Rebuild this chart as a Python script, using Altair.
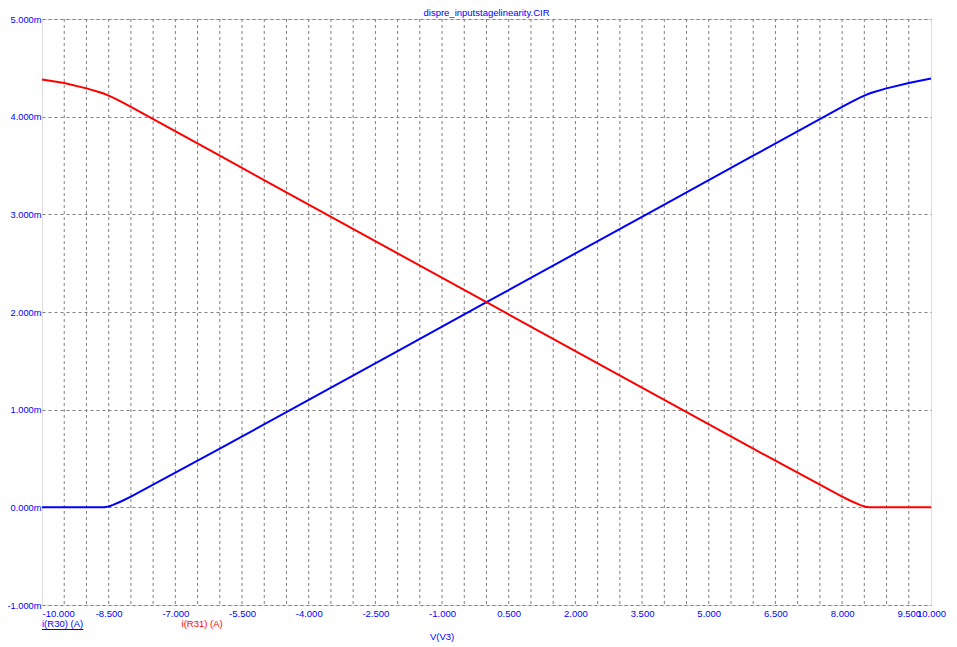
import altair as alt
import pandas as pd

# Sweep voltage V(V3) in volts
v_sweep = [-10, -9.5, -9, -8.7, -8.6, -8.5, -8.4, -8.2, -8.0, -6, -4, -2, 0,
           2, 4, 6, 8, 8.2, 8.4, 8.5, 8.6, 8.7, 9, 9.5, 10]
# currents in mA
i_r30 = [0, 0, 0, 0, 0.0, 0.008, 0.025, 0.065, 0.11, 0.6, 1.1, 1.6, 2.1,
         2.6, 3.1, 3.6, 4.1, 4.15, 4.195, 4.215, 4.235, 4.25, 4.29, 4.345, 4.39]
i_r31 = [4.38, 4.345, 4.29, 4.25, 4.235, 4.215, 4.195, 4.15, 4.1, 3.6, 3.1, 2.6, 2.1,
         1.6, 1.1, 0.6, 0.11, 0.065, 0.025, 0.008, 0, 0, 0, 0, 0]

x_label_ticks = [-10, -8.5, -7, -5.5, -4, -2.5, -1, 0.5, 2, 3.5, 5, 6.5, 8, 9.5, 10]
y_ticks = [-1, 0, 1, 2, 3, 4, 5]
x_grid = [-9.5 + 0.5 * k for k in range(39)]

BLUE = "#0000ff"
RED = "#ff0000"
FONT = "Liberation Sans"

df = pd.DataFrame({
    "v": v_sweep * 2,
    "i": i_r30 + i_r31,
    "series": ["i(R30) (A)"] * len(v_sweep) + ["i(R31) (A)"] * len(v_sweep),
})

xscale = alt.Scale(domain=[-10, 10], nice=False, zero=False)
yscale = alt.Scale(domain=[-1, 5], nice=False, zero=False)

x_axis = alt.Axis(
    values=x_label_ticks, grid=False, ticks=False, domain=False,
    labelExpr="(datum.value < 0 ? '-' : '') + format(abs(datum.value), '.3f')",
    labelOverlap=False, labelBound=False,
    labelAlign=alt.expr("datum.value == -10 ? 'left' : 'center'"),
    labelColor=BLUE, labelFont=FONT, labelFontSize=9.5, labelPadding=3,
    title=None)
y_axis = alt.Axis(
    values=y_ticks, grid=True, gridDash=[3, 3], gridColor="#808080", gridOpacity=1,
    ticks=False, domain=False,
    labelExpr="(datum.value < 0 ? '-' : '') + format(abs(datum.value), '.3f') + 'm'",
    labelColor=BLUE, labelFont=FONT, labelFontSize=9.3, labelPadding=1,
    title=None)

grid = alt.Chart(pd.DataFrame({"g": x_grid})).mark_rule(
    color="#808080", strokeDash=[3, 3], strokeWidth=1
).encode(x=alt.X("g:Q", scale=xscale, axis=x_axis))

lines = alt.Chart(df).mark_line(strokeWidth=2).encode(
    x=alt.X("v:Q", scale=xscale, axis=x_axis),
    y=alt.Y("i:Q", scale=yscale, axis=y_axis),
    color=alt.Color("series:N", scale=alt.Scale(domain=["i(R30) (A)", "i(R31) (A)"], range=[BLUE, RED]), legend=None),
)

leg_df = pd.DataFrame({"x": [-10, -6.86], "t": ["i(R30) (A)", "i(R31) (A)"], "c": [BLUE, RED]})
legend_text = alt.Chart(leg_df).mark_text(
    align="left", baseline="middle", font=FONT, fontSize=9.5
).encode(x=alt.X("x:Q", scale=xscale), y=alt.value(605), text="t:N",
         color=alt.Color("c:N", scale=None))

underline = alt.Chart(pd.DataFrame({"a": [-10], "b": [-9.07]})).mark_rule(
    color=BLUE, strokeWidth=1
).encode(x=alt.X("a:Q", scale=xscale), x2="b:Q", y=alt.value(610.5))

xtitle = alt.Chart(pd.DataFrame({"x": [-1.0], "t": ["V(V3)"]})).mark_text(
    align="center", baseline="middle", font=FONT, fontSize=9.5, color=BLUE
).encode(x=alt.X("x:Q", scale=xscale), y=alt.value(618), text="t:N")

title = alt.Chart(pd.DataFrame({"x": [0.0], "t": ["dispre_inputstagelinearity.CIR"]})).mark_text(
    align="center", baseline="alphabetic", font=FONT, fontSize=9.5, color=BLUE
).encode(x=alt.X("x:Q", scale=xscale), y=alt.value(-3), text="t:N")

chart = alt.layer(grid, lines, legend_text, underline, xtitle, title).properties(
    width=889, height=586,
    autosize=alt.AutoSizeParams(type="none"),
    padding={"left": 34, "top": 11, "right": 18, "bottom": 40},
).configure_view(stroke="#a0a0a0", strokeWidth=2).configure(background="white")

chart.save("out.html", embed_options={"renderer": "svg", "actions": False})
